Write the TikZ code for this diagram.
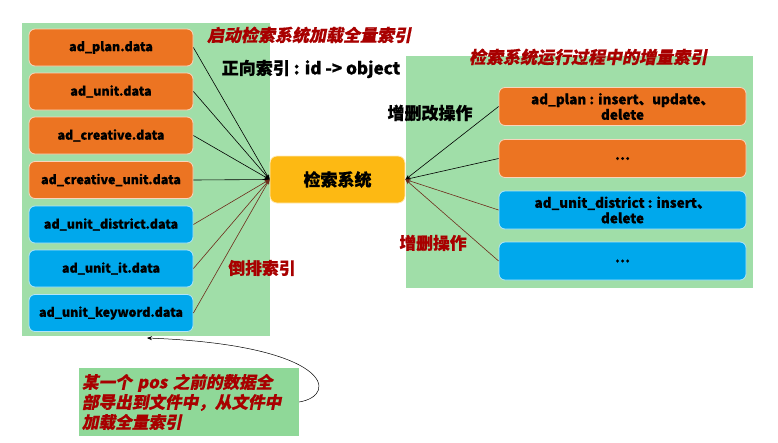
\documentclass[tikz,border=0pt]{standalone}
\usepackage{fontspec}
\setmainfont{Noto Sans CJK SC}[BoldFeatures={FakeBold=0.6}]
\newfontfamily\slantcjk{Noto Sans CJK SC}[FakeSlant=0.2, BoldFeatures={FakeBold=0.6}]
\usepackage{xcolor}
\usetikzlibrary{arrows.meta}
\definecolor{panelgreen}{HTML}{A0DEA8}
\definecolor{notegreen}{HTML}{8FD898}
\definecolor{dataorange}{HTML}{EC7422}
\definecolor{datablue}{HTML}{00A8EC}
\definecolor{sysyellow}{HTML}{FDB913}
\definecolor{titlered}{HTML}{A80000}
\definecolor{linebrown}{HTML}{6E2A1A}
\tikzset{
  databox/.style={rounded corners=6pt, draw=white!70!#1, line width=0.8pt, fill=#1,
    minimum width=164pt, minimum height=37pt, font=\bfseries\fontsize{12.5}{14}\selectfont},
  opbox/.style={rounded corners=6pt, draw=white!70!#1, line width=0.8pt, fill=#1,
    minimum width=247pt, minimum height=38pt, align=center,
    font=\bfseries\fontsize{13.5}{15.5}\selectfont},
  redtitle/.style={text=titlered, font=\slantcjk\bfseries\fontsize{17}{19}\selectfont},
  redlabel/.style={text=titlered, font=\bfseries\fontsize{16.8}{19}\selectfont},
  blacklabel/.style={font=\bfseries\fontsize{17}{19}\selectfont},
  link/.style={->, >={Stealth[length=5pt, width=4pt]}, line width=0.6pt}
}
\begin{document}
\begin{tikzpicture}[x=1pt, y=-1pt]
  \useasboundingbox (0,0) rectangle (778,442);

  % Panels
  \fill[panelgreen] (22,23) rectangle (270,336);
  \fill[panelgreen] (406,56) rectangle (753,288);

  % Full index data files
  \node[databox=dataorange] (plan) at (111,47.5) {ad\_plan.data};
  \node[databox=dataorange] (unit) at (111,91.5) {ad\_unit.data};
  \node[databox=dataorange] (creative) at (111,135.5) {ad\_creative.data};
  \node[databox=dataorange] (creativeunit) at (111,180) {ad\_creative\_unit.data};
  \node[databox=datablue] (district) at (111,224.5) {ad\_unit\_district.data};
  \node[databox=datablue] (it) at (111,268.5) {ad\_unit\_it.data};
  \node[databox=datablue] (keyword) at (111,313) {ad\_unit\_keyword.data};

  % Search system
  \node[rounded corners=7pt, draw=white!70!sysyellow, line width=0.8pt, fill=sysyellow,
    minimum width=135pt, minimum height=47pt, font=\bfseries\fontsize{17}{19}\selectfont]
    (sys) at (337.5,179.5) {检索系统};

  % Incremental index
  \node[opbox=dataorange] (opplan) at (622.5,106.5) {ad\_plan : insert、update、\\delete};
  \node[opbox=dataorange] (opmore) at (622.5,158.5) {…};
  \node[opbox=datablue] (opdistrict) at (622.5,210) {ad\_unit\_district : insert、\\delete};
  \node[opbox=datablue] (opmoreb) at (622.5,261) {…};

  % Links
  \draw[link] (plan.east) -- (sys.west);
  \draw[link] (unit.east) -- (sys.west);
  \draw[link] (creative.east) -- (sys.west);
  \draw[link] (creativeunit.east) -- (sys.west);
  \draw[link, linebrown] (district.east) -- (sys.west);
  \draw[link, linebrown] (it.east) -- (sys.west);
  \draw[link, linebrown] (keyword.east) -- (sys.west);
  \draw[link] (opplan.west) -- (sys.east);
  \draw[link] (opmore.west) -- (sys.east);
  \draw[link, linebrown] (opdistrict.west) -- (sys.east);
  \draw[link, linebrown] (opmoreb.west) -- (sys.east);

  % Labels
  \node[redtitle] (fulltitle) at (309,35) {启动检索系统加载全量索引};
  \node[blacklabel] (forward) at (311,69) {正向索引 : id -> object};
  \node[redtitle] (inctitle) at (588,57) {检索系统运行过程中的增量索引};
  \node[blacklabel] (crud) at (430,113) {增删改操作};
  \node[redlabel] (adddel) at (433,243) {增删操作};
  \node[redlabel] (inverted) at (262,268) {倒排索引};

  % Note
  \node[fill=notegreen, minimum width=220pt, minimum height=68pt, text width=214pt,
    align=left, inner sep=3pt, text=titlered,
    font=\slantcjk\bfseries\fontsize{16.6}{20}\selectfont]
    (note) at (189,402) {某一个 pos 之前的数据全\\部导出到文件中，从文件中\\加载全量索引};
  \coordinate (notetarget) at (147,338);
  \draw[->, >={Stealth[length=5pt, width=4pt]}, line width=0.5pt]
    (note.east) .. controls (340,395) and (330,345) .. (notetarget);
\end{tikzpicture}
\end{document}
